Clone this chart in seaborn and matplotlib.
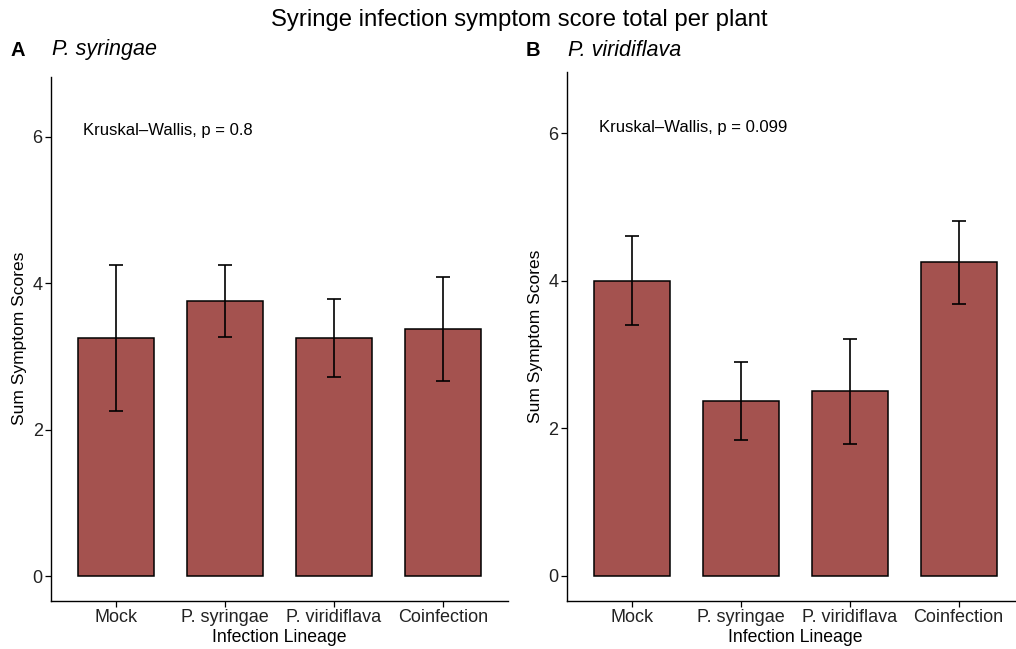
import matplotlib
matplotlib.use("Agg")
import matplotlib.pyplot as plt
import numpy as np
import pandas as pd
import seaborn as sns

# Categories and per-panel summary values
lineages = ["Mock", "P. syringae", "P. viridiflava", "Coinfection"]

syr_mean = [3.25, 3.75, 3.25, 3.375]
syr_low = [2.25, 3.26, 2.72, 2.66]
syr_high = [4.25, 4.25, 3.78, 4.08]

vir_mean = [4.0, 2.375, 2.5, 4.25]
vir_low = [3.40, 1.84, 1.79, 3.69]
vir_high = [4.60, 2.90, 3.21, 4.81]

panel_tags = ["A", "B"]
panel_titles = ["P. syringae", "P. viridiflava"]
kw_labels = ["Kruskal\u2013Wallis, p = 0.8", "Kruskal\u2013Wallis, p = 0.099"]
yticks = [0, 2, 4, 6]

sns.set_theme(style="white")
plt.rcParams["font.family"] = ["Liberation Sans", "DejaVu Sans"]

BAR = "#A4524F"
TXT = "#222222"

fig = plt.figure(figsize=(10.16, 6.49), dpi=100)
W, H = 1016, 649


def px_axes(x0, x1, ytop, ybot):
    return fig.add_axes([x0 / W, 1 - ybot / H, (x1 - x0) / W, (ybot - ytop) / H])


ax_a = px_axes(51, 508, 76.7, 600.7)
ax_b = px_axes(566.7, 1024, 71.7, 600.7)

panels = [
    (ax_a, syr_mean, syr_low, syr_high, (-0.337, 6.82), 6.09),
    (ax_b, vir_mean, vir_low, vir_high, (-0.335, 6.833), 6.08),
]

for i, (ax, means, lows, highs, ylim, kw_y) in enumerate(panels):
    df = pd.DataFrame({"lineage": lineages, "score": means})
    sns.barplot(data=df, x="lineage", y="score", order=lineages, ax=ax,
                color=BAR, saturation=1, width=0.7, errorbar=None,
                edgecolor="black", linewidth=1.1, zorder=2)
    m = np.array(means)
    err = np.vstack([m - np.array(lows), np.array(highs) - m])
    ax.errorbar(np.arange(len(lineages)), m, yerr=err, fmt="none",
                ecolor="black", elinewidth=1.2, capsize=5, capthick=1.2,
                zorder=3)
    ax.set_xlim(-0.6, 3.6)
    ax.set_ylim(*ylim)
    ax.set_yticks(yticks)
    ax.set_yticklabels([str(t) for t in yticks])
    ax.set_xlabel("Infection Lineage", fontsize=12.7, color="black", labelpad=2)
    ax.set_ylabel("Sum Symptom Scores", fontsize=12.5, color="black", labelpad=4)
    for side in ("top", "right"):
        ax.spines[side].set_visible(False)
    for side in ("left", "bottom"):
        ax.spines[side].set_color("black")
        ax.spines[side].set_linewidth(1.0)
    ax.tick_params(axis="both", direction="out", length=4, width=0.9,
                   color="black", labelcolor=TXT, labelsize=13, pad=2)
    ax.tick_params(axis="x", bottom=True)
    ax.tick_params(axis="y", left=True)
    ax.grid(False)
    ax.text(-0.306, kw_y, kw_labels[i], ha="left", va="center",
            fontsize=12, color="black")

# Panel tags and italic subtitles
fig.text(18 / W, 1 - 50 / H, panel_tags[0], fontsize=14.5, fontweight="bold",
         ha="center", va="center", color="black")
fig.text(52 / W, 1 - 50 / H, panel_titles[0], fontsize=15.5, style="italic",
         ha="left", va="center", color="black")
fig.text(533 / W, 1 - 50 / H, panel_tags[1], fontsize=14.5, fontweight="bold",
         ha="center", va="center", color="black")
fig.text(568 / W, 1 - 50 / H, panel_titles[1], fontsize=15.5, style="italic",
         ha="left", va="center", color="black")

fig.text(519 / W, 1 - 20 / H, "Syringe infection symptom score total per plant",
         fontsize=17.2, ha="center", va="center", color="black")

fig.savefig("out.png", dpi=100)
